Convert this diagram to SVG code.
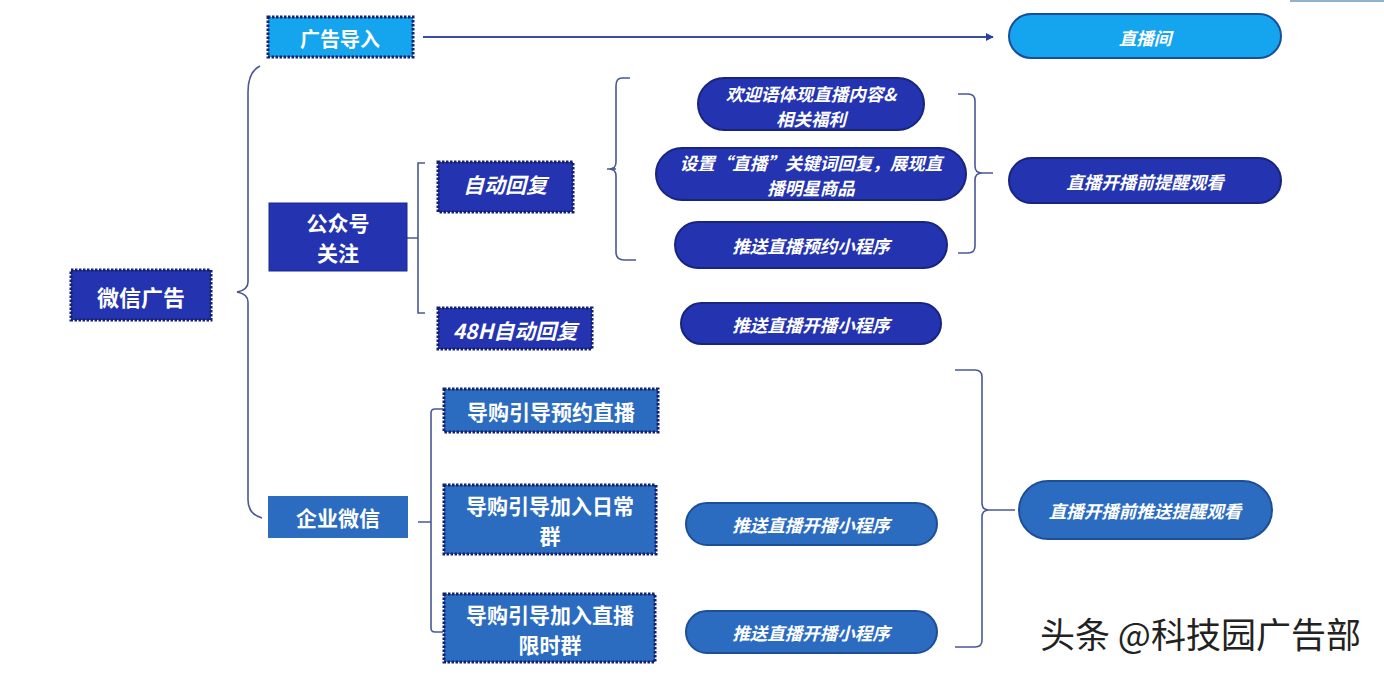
<svg xmlns="http://www.w3.org/2000/svg" width="1384" height="674" viewBox="0 0 1384 674">
<defs>
<style>
.t{font-family:"Noto Sans CJK SC","Noto Sans",sans-serif;font-weight:700;fill:#ffffff;text-anchor:middle;dominant-baseline:central}
.b{font-size:21px}
.p{font-size:17.5px;font-style:italic}
.dk{fill:#2433b0}
.md{fill:#2b6cc0}
.lt{fill:#14a5ee}
.dash{stroke:#142070;stroke-width:3;stroke-dasharray:2.5 1.5}
.pill{stroke:#18247e;stroke-width:2}
.pillm{stroke:#1d4f98;stroke-width:2}
.c{fill:none;stroke:#4a5895;stroke-width:1.6}
</style>
<marker id="ah" viewBox="0 0 10 10" refX="9" refY="5" markerWidth="8" markerHeight="8" orient="auto" markerUnits="userSpaceOnUse">
<path d="M0,0 L10,5 L0,10 Z" fill="#2a3ea8"/>
</marker>
</defs>
<rect width="1384" height="674" fill="#ffffff"/>
<line x1="1290" y1="1" x2="1384" y2="1" stroke="#8fb3cf" stroke-width="2"/>

<g id="connectors">
<line x1="423" y1="37" x2="993" y2="37" stroke="#3a4ea0" stroke-width="2" marker-end="url(#ah)"/>
<path class="c" d="M260,66 Q248,72 248,92 L248,282 Q248,290 237,292 Q248,294 248,302 L248,500 Q248,514 262,518"/>
<path class="c" d="M407,238 L418,238 M425,163 L418,163 L418,313 L425,313"/>
<path class="c" d="M607,169 L616,169 M630,78 L622,78 Q616,78 616,86 L616,162 Q616,169 609,169 Q616,169 616,176 L616,252 Q616,260 624,260 L636,260"/>
<path class="c" d="M958,94 L968,94 Q975,94 975,101 L975,166 Q975,173 982,173 L993,173 M975,180 Q975,173 982,173 M975,180 L975,246 Q975,253 968,253 L958,253"/>
<path class="c" d="M418,522 L431,522 M443,409 L435,409 Q431,409 431,413 L431,628 Q431,632 435,632 L443,632"/>
<path class="c" d="M955,370 L975,370 Q982,370 982,377 L982,503 Q982,510 989,510 L1015,510 M982,517 Q982,510 989,510 M982,517 L982,640 Q982,647 975,647 L955,647"/>
</g>

<g id="n-guanggao">
<rect class="lt dash" x="268" y="17" width="145" height="40"/>
<text class="t b" x="340" y="38" style="font-size:20px">广告导入</text>
</g>
<g id="n-zhibojian">
<rect class="lt" x="1009" y="14" width="272" height="44" rx="22" stroke="#1a4d9a" stroke-width="2"/>
<text class="t p" x="1145" y="37">直播间</text>
</g>
<g id="n-weixin">
<rect class="dk dash" x="71" y="270" width="140" height="50"/>
<text class="t b" x="141" y="296" style="font-size:22px">微信广告</text>
</g>
<g id="n-gzh">
<rect class="dk" x="269" y="203" width="138" height="68" stroke="#1b2890" stroke-width="1"/>
<text class="t b" x="338" y="222">公众号<tspan x="338" dy="30">关注</tspan></text>
</g>
<g id="n-qywx">
<rect class="md" x="268" y="496" width="140" height="42"/>
<text class="t b" x="338" y="517">企业微信</text>
</g>
<g id="n-zdhf">
<rect class="dk dash" x="438" y="162" width="135" height="50"/>
<text class="t b" x="505" y="184" style="font-style:italic">自动回复</text>
</g>
<g id="n-48h">
<rect class="dk dash" x="438" y="308" width="154" height="41"/>
<text class="t b" x="515" y="330" style="font-style:italic">48H自动回复</text>
</g>
<g id="n-hyy">
<rect class="dk pill" x="698" y="78" width="226" height="52" rx="26"/>
<text class="t p" x="811" y="93">欢迎语体现直播内容&amp;<tspan x="811" dy="25">相关福利</tspan></text>
</g>
<g id="n-sz">
<rect class="dk pill" x="656" y="148" width="310" height="52" rx="26"/>
<text class="t p" x="811" y="162">设置“直播”关键词回复，展现直<tspan x="811" dy="25">播明星商品</tspan></text>
</g>
<g id="n-yyxcx">
<rect class="dk pill" x="675" y="222" width="272" height="46" rx="23"/>
<text class="t p" x="811" y="245">推送直播预约小程序</text>
</g>
<g id="n-txgk">
<rect class="dk pill" x="1009" y="158" width="272" height="45" rx="22.5"/>
<text class="t p" x="1145" y="181">直播开播前提醒观看</text>
</g>
<g id="n-kbxcx1">
<rect class="dk pill" x="681" y="303" width="260" height="41" rx="20.5"/>
<text class="t p" x="811" y="324">推送直播开播小程序</text>
</g>
<g id="n-yyzb">
<rect class="md dash" x="444" y="389" width="214" height="43"/>
<text class="t b" x="551" y="411">导购引导预约直播</text>
</g>
<g id="n-rcq">
<rect class="md dash" x="444" y="485" width="212" height="69"/>
<text class="t b" x="550" y="505">导购引导加入日常<tspan x="550" dy="30">群</tspan></text>
</g>
<g id="n-xsq">
<rect class="md dash" x="444" y="594" width="211" height="68"/>
<text class="t b" x="550" y="614">导购引导加入直播<tspan x="550" dy="30">限时群</tspan></text>
</g>
<g id="n-kbxcx2">
<rect class="md pillm" x="686" y="503" width="251" height="42" rx="21"/>
<text class="t p" x="811" y="524">推送直播开播小程序</text>
</g>
<g id="n-kbxcx3">
<rect class="md pillm" x="686" y="611" width="251" height="42" rx="21"/>
<text class="t p" x="811" y="632">推送直播开播小程序</text>
</g>
<g id="n-tstx">
<rect class="md pillm" x="1019" y="481" width="253" height="58" rx="29"/>
<text class="t p" x="1145" y="510">直播开播前推送提醒观看</text>
</g>
<text x="1040" y="648" font-family="Noto Sans CJK SC, sans-serif" font-size="35" fill="#222222" stroke="#ffffff" stroke-width="1" paint-order="stroke">头条 @科技园广告部</text>
</svg>
